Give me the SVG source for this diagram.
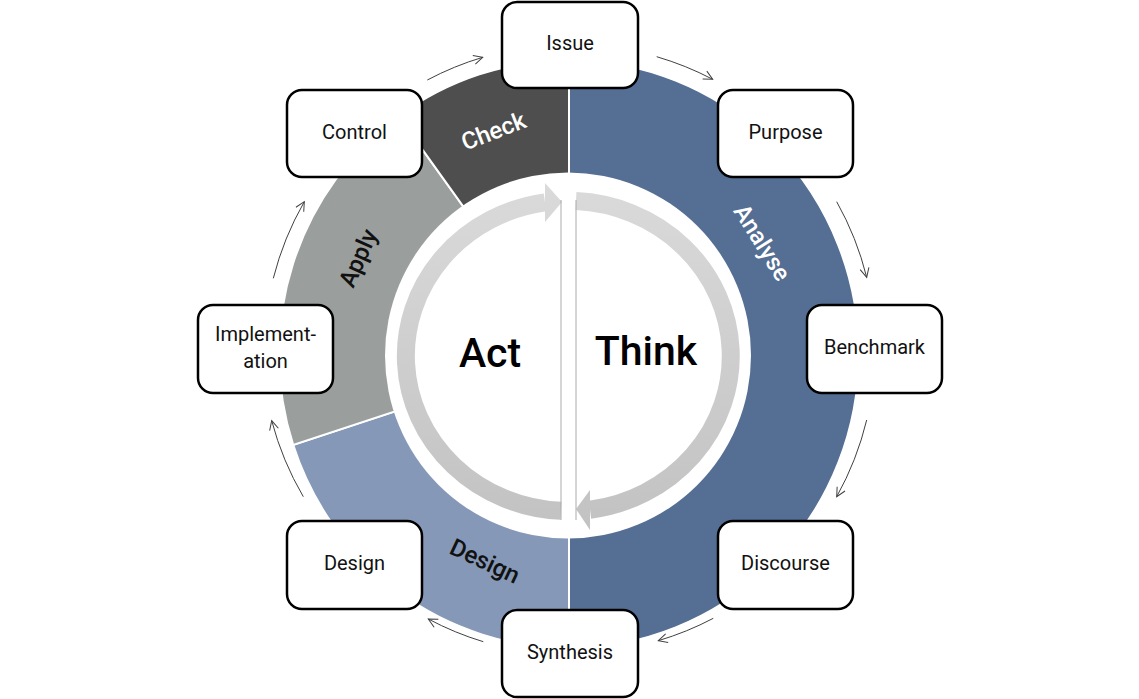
<svg xmlns="http://www.w3.org/2000/svg" width="1139" height="699" viewBox="0 0 1139 699">
<style>
.seg{stroke:#fff;stroke-width:2}
.box{fill:#fff;stroke:#000;stroke-width:2.5}
.bt{font-family:Roboto,"Liberation Sans",sans-serif;font-size:20px;fill:#111;text-anchor:middle}
.sl{font-family:Roboto,"Liberation Sans",sans-serif;font-size:24px;font-weight:500;text-anchor:middle}
.big{font-family:Roboto,"Liberation Sans",sans-serif;font-size:41px;font-weight:500;fill:#000;text-anchor:middle}
.con{fill:none;stroke:#404040;stroke-width:1;marker-end:url(#ah)}
.garc{fill:none;stroke:url(#gg);stroke-width:18}
</style>
<defs>
<linearGradient id="gg" gradientUnits="userSpaceOnUse" x1="0" y1="185" x2="0" y2="530">
<stop offset="0" stop-color="#dadada"/>
<stop offset="1" stop-color="#c2c2c2"/>
</linearGradient>
<marker id="ah" markerUnits="userSpaceOnUse" markerWidth="12" markerHeight="12" viewBox="0 0 12 12" refX="10" refY="6" orient="auto" overflow="visible">
<path d="M1,1.5 L10,6 L1,10.5" fill="none" stroke="#404040" stroke-width="1"/>
</marker>
</defs>
<rect width="1139" height="699" fill="#fff"/>
<g id="ring">
<path id="seg-analyse" class="seg" fill="#556e93" d="M569,354 L569,60 A290,294 0 0 1 569,648 Z"/>
<path id="seg-design" class="seg" fill="#8598b7" d="M569,354 L569,648 A290,294 0 0 1 293.2,444.9 Z"/>
<path id="seg-apply" class="seg" fill="#9a9f9e" d="M569,354 L293.2,444.9 A290,294 0 0 1 398.5,116.2 Z"/>
<path id="seg-check" class="seg" fill="#4e4e4e" d="M569,354 L398.5,116.2 A290,294 0 0 1 569,60 Z"/>
<circle cx="568" cy="355.5" r="183" fill="#fff"/>
<text class="sl" fill="#fff" transform="translate(493.5,131) rotate(-21)" dy="0.35em">Check</text>
<text class="sl" fill="#fff" transform="translate(762.5,242.5) rotate(58)" dy="0.35em">Analyse</text>
<text class="sl" fill="#111" transform="translate(485,561) rotate(25)" dy="0.35em">Design</text>
<text class="sl" fill="#111" transform="translate(358,258) rotate(-66)" dy="0.35em">Apply</text>
</g>
<g id="cycle-arrows">
<path class="garc" d="M561,510.8 A162.7,155.1 0 0 1 545,202.4"/>
<polygon fill="url(#gg)" points="545,183 562,202 545,222"/>
<path class="garc" d="M576,201.1 A162.7,155.1 0 0 1 590,509.7"/>
<polygon fill="url(#gg)" points="590,490 576,509 590,530"/>
<line x1="561" y1="200" x2="561" y2="520" stroke="#aaa" stroke-width="1"/>
<line x1="576" y1="200" x2="576" y2="520" stroke="#aaa" stroke-width="1"/>
<text class="big" x="490" y="367">Act</text>
<text class="big" x="646" y="365">Think</text>
</g>
<g id="connectors">
<path class="con" d="M656.7,56.7 A305,305 0 0 1 712.7,79.3"/>
<path class="con" d="M836.7,201.7 A305,305 0 0 1 866.7,277.3"/>
<path class="con" d="M866.7,420 A305,305 0 0 1 836.7,496.7"/>
<path class="con" d="M713.3,618.3 A305,305 0 0 1 658.3,640.7"/>
<path class="con" d="M483.3,641.7 A305,305 0 0 1 428.3,619"/>
<path class="con" d="M303.3,496.7 A305,305 0 0 1 271.7,420.7"/>
<path class="con" d="M273.3,278.3 A305,305 0 0 1 304.3,201.7"/>
<path class="con" d="M427.3,80 A305,305 0 0 1 482.7,57.3"/>
</g>
<g id="node-issue"><rect class="box" x="502" y="2" width="136" height="86" rx="15"/><text class="bt" x="570" y="50">Issue</text></g>
<g id="node-purpose"><rect class="box" x="718" y="90" width="135" height="87" rx="15"/><text class="bt" x="785.5" y="139">Purpose</text></g>
<g id="node-benchmark"><rect class="box" x="807" y="305" width="135" height="88" rx="15"/><text class="bt" x="874.5" y="354">Benchmark</text></g>
<g id="node-discourse"><rect class="box" x="718" y="521" width="135" height="88" rx="15"/><text class="bt" x="785.5" y="570">Discourse</text></g>
<g id="node-synthesis"><rect class="box" x="502" y="610" width="136" height="87" rx="15"/><text class="bt" x="570" y="659">Synthesis</text></g>
<g id="node-design"><rect class="box" x="287" y="521" width="135" height="88" rx="15"/><text class="bt" x="354.5" y="570">Design</text></g>
<g id="node-implementation"><rect class="box" x="198" y="305" width="135" height="88" rx="15"/><text class="bt" x="265.5" y="341">Implement-</text><text class="bt" x="265.5" y="368">ation</text></g>
<g id="node-control"><rect class="box" x="287" y="90" width="135" height="87" rx="15"/><text class="bt" x="354.5" y="139">Control</text></g>
</svg>
